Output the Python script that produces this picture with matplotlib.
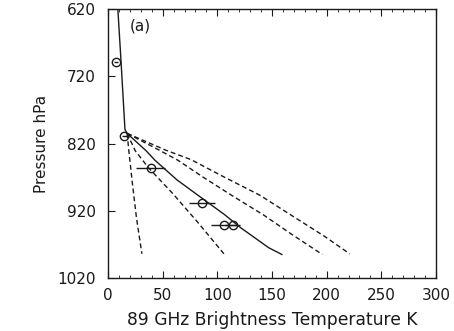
import matplotlib
matplotlib.use("Agg")
import matplotlib.pyplot as plt
from matplotlib.ticker import MultipleLocator

# Model profiles: 89 GHz brightness temperature (K) vs pressure (hPa)
solid_T = [9, 12, 15.5, 17.5, 35, 43, 63, 84, 106, 122, 147, 159]
solid_P = [620, 700, 799, 805, 831, 845, 874, 899, 925, 946, 975, 985]

dash1_T = [17.5, 19, 22, 26, 31]
dash1_P = [805, 830, 875, 930, 984]

dash2_T = [17.5, 25, 37, 59, 82, 106]
dash2_P = [805, 831, 856, 894, 937, 984]

dash3_T = [17.5, 47, 64, 86, 114, 142, 168, 196]
dash3_P = [805, 830, 845, 869, 898, 926, 955, 985]

dash4_T = [17.5, 53, 76, 104, 139, 167, 198, 221]
dash4_P = [805, 830, 844, 868, 897, 926, 958, 984]

# Observed values with horizontal uncertainty
obs_T = [7.5, 15, 39, 86, 106, 114]
obs_P = [699, 809, 856, 908, 941, 941]
obs_err = [2, 2, 13, 12, 12, 7]

x_ticks = [0, 50, 100, 150, 200, 250, 300]
y_ticks = [620, 720, 820, 920, 1020]

plt.rcParams['font.family'] = ['DejaVu Sans']
fig = plt.figure(figsize=(4.54, 3.31), dpi=100)
ax = fig.add_axes([108 / 454, 1 - 278 / 331, 328 / 454, 269 / 331])

ink = '#1a1a1a'
dash = (0, (3.5, 2.2))
ax.plot(solid_T, solid_P, color=ink, lw=1.0)
for t, p in [(dash1_T, dash1_P), (dash2_T, dash2_P),
             (dash3_T, dash3_P), (dash4_T, dash4_P)]:
    ax.plot(t, p, color=ink, lw=1.0, linestyle=dash)

ax.errorbar(obs_T, obs_P, xerr=obs_err, fmt='o', ms=6, mfc='none',
            mec=ink, mew=1.0, ecolor=ink, elinewidth=1.0, capsize=0)

ax.text(20, 646, '(a)', fontsize=11, color=ink, va='center', ha='left')

ax.set_xlim(0, 300)
ax.set_ylim(1020, 620)
ax.set_xticks(x_ticks)
ax.set_yticks(y_ticks)
ax.xaxis.set_minor_locator(MultipleLocator(10))
ax.tick_params(axis='x', which='both', direction='in', top=True,
               bottom=True, colors=ink, labelsize=11, pad=7)
ax.tick_params(axis='x', which='major', length=5)
ax.tick_params(axis='x', which='minor', length=2.5)
ax.tick_params(axis='y', which='major', direction='in', length=5,
               left=True, right=False, colors=ink, labelsize=11, pad=9)

for s in ax.spines.values():
    s.set_color(ink)
    s.set_linewidth(1.0)

ax.set_xlabel('89 GHz Brightness Temperature K', fontsize=12.3, color=ink,
              labelpad=6)
ax.set_ylabel('Pressure hPa', fontsize=11, color=ink, labelpad=6)

fig.savefig('out.png', dpi=100, facecolor='white')
